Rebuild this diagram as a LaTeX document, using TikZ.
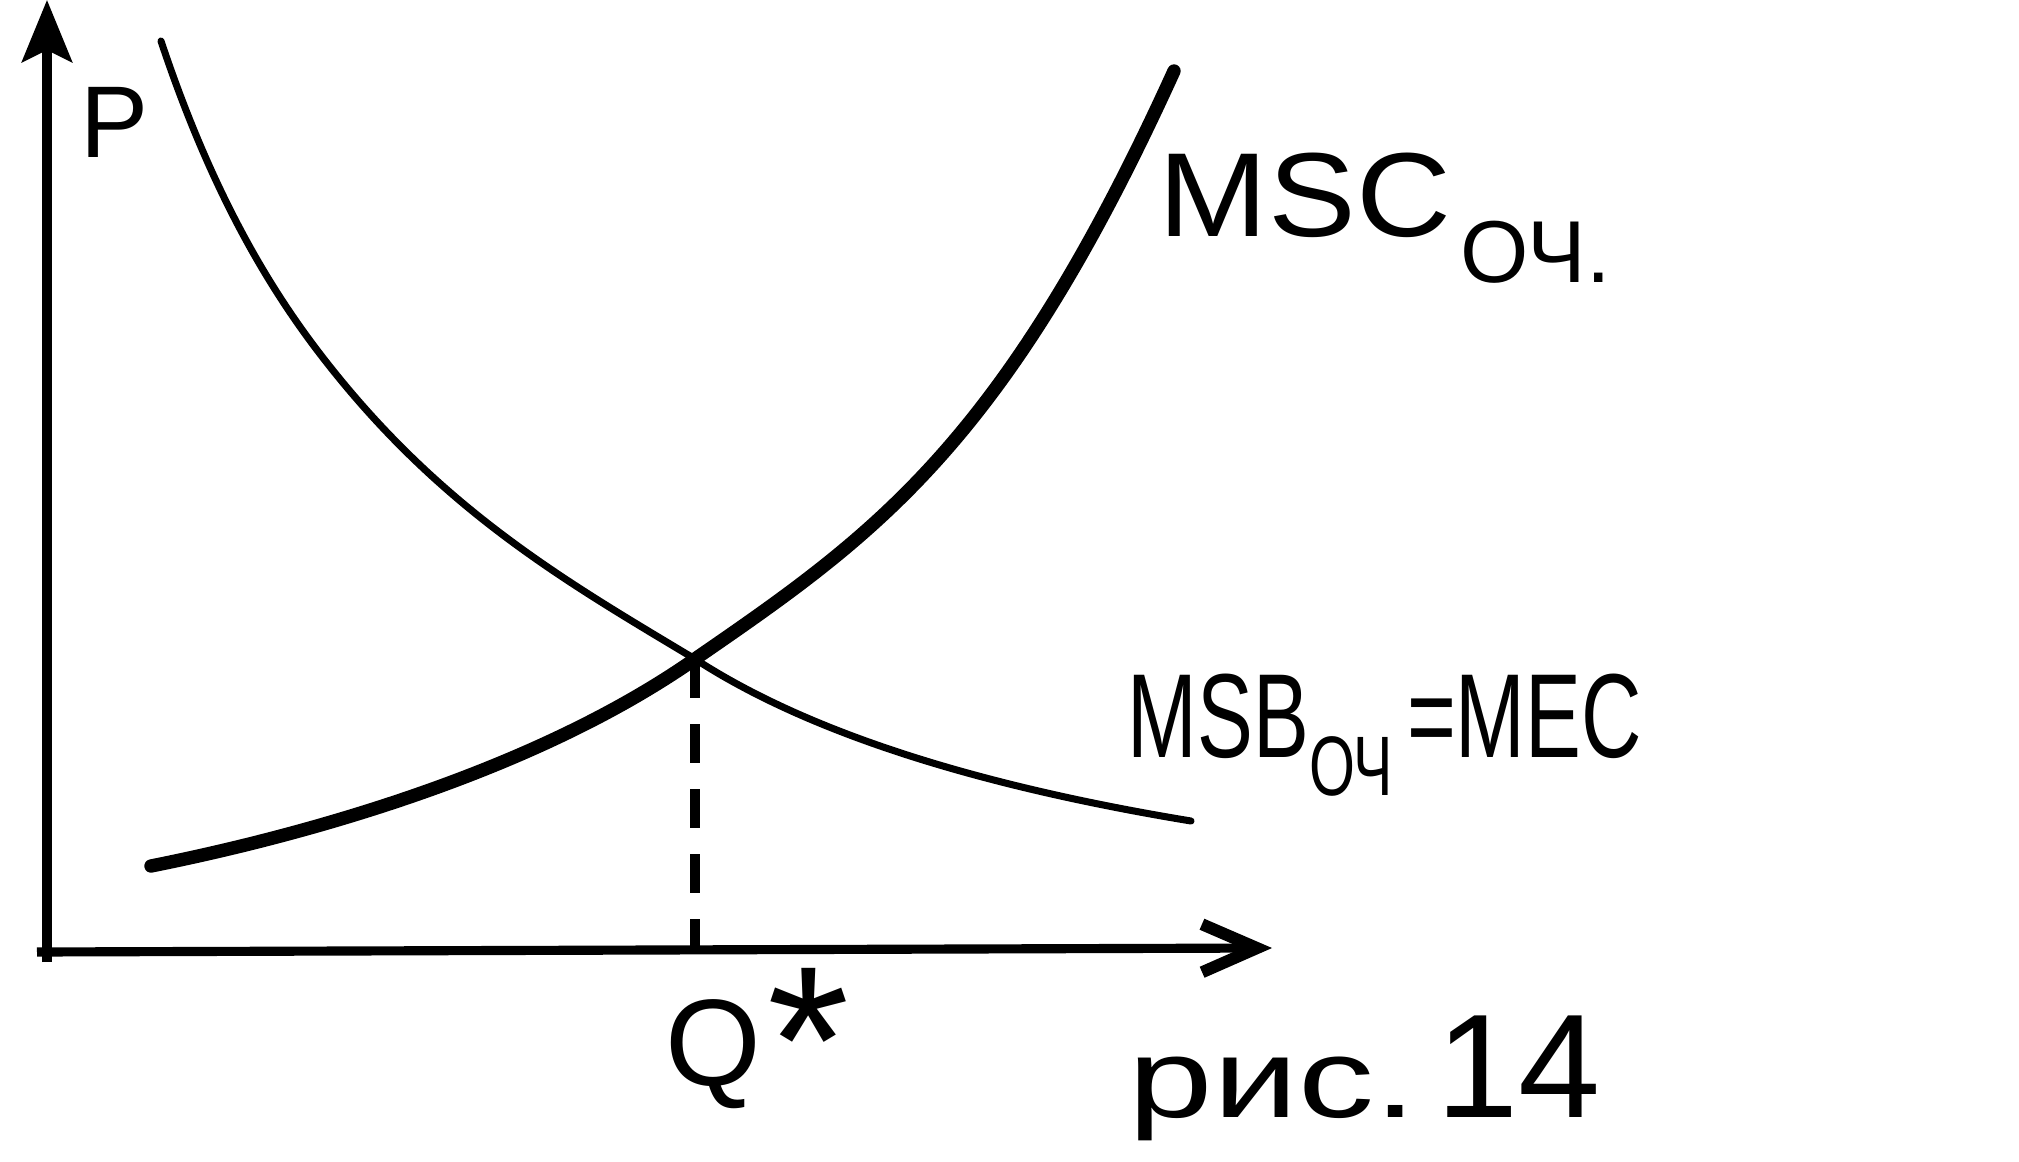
\documentclass[tikz,border=0pt]{standalone}
\usepackage{fontspec}
\setmainfont{Liberation Sans}
\usetikzlibrary{arrows.meta}
\begin{document}
\begin{tikzpicture}[x=0.01cm,y=-0.01cm,
  axis/.style={line width=2.6pt},
  thincurve/.style={line width=2pt, line cap=round},
  thickcurve/.style={line width=3.8pt, line cap=round},
  guide/.style={line width=2.8pt, dash pattern=on 11pt off 7.5pt},
  lbl/.style={inner sep=0pt, anchor=base west}]
\useasboundingbox (0,0) rectangle (2019,1161);
% axes
\coordinate (O) at (47,952);
\coordinate (ytop) at (47,0);
\coordinate (ybot) at (47,962);
\coordinate (xbeg) at (37,952);
\coordinate (xend) at (1272,948);
\draw[axis,-{Stealth[length=0.62cm,width=0.5cm,inset=0.12cm]}] (ybot) -- (ytop);
\draw[axis,-{Straight Barb[length=0.55cm,width=0.48cm,line width=3.4pt]}] (xbeg) -- (xend);
% equilibrium
\coordinate (E) at (695,659);
% MSB = MEC (thin, falling)
\coordinate (msbS) at (161,41);
\coordinate (msbM) at (317,350);
\coordinate (msbT) at (1191,821);
\draw[thincurve] (msbS) .. controls (211,191) and (267,284) .. (msbM)
                 .. controls (437,508) and (565,581) .. (E)
                 .. controls (815,737) and (991,788) .. (msbT);
% MSC (thick, rising)
\coordinate (mscS) at (151,866);
\coordinate (mscT) at (1174,71);
\draw[thickcurve] (mscS) .. controls (331,830) and (545,764) .. (E)
                  .. controls (875,535) and (1004,445) .. (mscT);
% dashed guide
\draw[guide] (E) -- (E |- O);
% labels
\node[lbl, font=\fontsize{29}{29}\selectfont] (P) at (80,158) {P};
\node[lbl, font=\fontsize{34}{34}\selectfont] (msc) at (1158,237) {\scalebox{1.1}[1]{MSC}\hspace{0.1cm}\raisebox{-0.45cm}{\fontsize{25}{25}\selectfont ОЧ.}};
\node[lbl, font=\fontsize{34}{34}\selectfont] (msb) at (1127,757) {\scalebox{0.7}[1]{MSB\raisebox{-0.38cm}{\fontsize{24}{24}\selectfont ОЧ}\,=MEC}};
\node[lbl, font=\fontsize{35}{35}\selectfont] (q) at (665,1085) {Q\hspace{0.06cm}\raisebox{-0.28cm}{\fontsize{60}{60}\selectfont *}};
\node[lbl, font=\fontsize{32}{32}\selectfont] (fig) at (1128,1117) {\scalebox{1.35}[1]{рис.}\hspace{0.2cm}{\fontsize{42}{42}\selectfont 14}};
\end{tikzpicture}
\end{document}
